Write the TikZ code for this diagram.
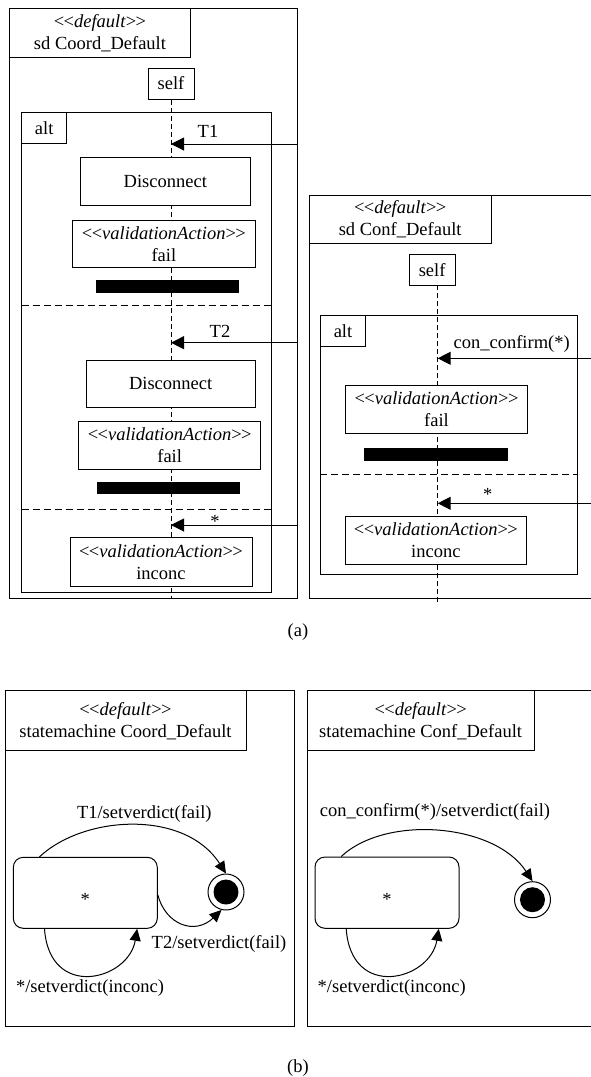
\documentclass[tikz,border=0pt]{standalone}
\usepackage{fontspec}
\setmainfont{Liberation Serif}
\usetikzlibrary{arrows.meta}
\newcommand{\stereo}[1]{\textless\kern-0.6pt\textless\kern0pt\textit{#1}\kern0pt\textgreater\kern-0.6pt\textgreater}
\begin{document}
\begin{tikzpicture}[x=1pt,y=-1pt,
  every node/.style={font=\fontsize{18.5}{22}\selectfont},
  ln/.style={line width=1pt},
  box/.style={draw, line width=1pt, fill=white, inner sep=0pt, align=center},
  lifeline/.style={line width=1pt, dash pattern=on 5pt off 3pt},
  sepline/.style={line width=1pt, dash pattern=on 7pt off 4pt},
  msg/.style={line width=1pt, -{Triangle[length=13pt,width=13pt]}},
  trans/.style={line width=1pt, -{Triangle[length=12pt,width=11pt]}},
  blackbar/.style={fill=black, inner sep=0pt},
  lbl/.style={inner sep=0pt, anchor=base},
  statebox/.style={draw, line width=1pt, rounded corners=10pt, inner sep=0pt},
  finalst/.style={draw, circle, line width=1pt, inner sep=0pt, minimum size=36pt},
]
\useasboundingbox (0,0) rectangle (591,1077);
\clip (0,0) rectangle (591,1077);

% ---------------- (a) left: sd Coord_Default ----------------
\draw[ln] (9.3,8.3) rectangle (297,598.3);
\node[box, minimum width=181.4pt, minimum height=49pt] (tA) at (100,32.8) {\stereo{default}\\sd Coord\_Default};
\node[box, minimum width=46pt, minimum height=31pt] (selfA) at (171,83.5) {self};
\coordinate (lifeA) at (171,598.3);
\draw[lifeline] (selfA.south) -- (lifeA);
\draw[ln] (21.7,112.7) rectangle (271,592.7);
\node[box, minimum width=45pt, minimum height=30.6pt] (altA) at (44.2,128) {alt};

\coordinate (t1s) at (297,144); \coordinate (t1e) at (171,144);
\draw[msg] (t1s) -- (t1e);
\node[lbl] (lt1) at (208,137.7) {T1};
\node[box, minimum width=169.3pt, minimum height=48pt] (dA1) at (165.35,181.7) {Disconnect};
\node[box, minimum width=182.3pt, minimum height=47.7pt] (vA1) at (163.85,243.85) {\stereo{validationAction}\\fail};
\node[blackbar, minimum width=143.6pt, minimum height=12.7pt] (bA1) at (167.5,286.35) {};
\draw[sepline] (21.7,305) -- (271,305);

\coordinate (t2s) at (297,342.7); \coordinate (t2e) at (171,342.7);
\draw[msg] (t2s) -- (t2e);
\node[lbl] (lt2) at (220,337.3) {T2};
\node[box, minimum width=169.3pt, minimum height=47.7pt] (dA2) at (170.65,383.85) {Disconnect};
\node[box, minimum width=182pt, minimum height=47.6pt] (vA2) at (169.7,445.5) {\stereo{validationAction}\\fail};
\node[blackbar, minimum width=143.6pt, minimum height=12.3pt] (bA2) at (168.5,487.85) {};
\draw[sepline] (21.7,509.3) -- (271,509.3);

\coordinate (t3s) at (297,525); \coordinate (t3e) at (171,525);
\draw[msg] (t3s) -- (t3e);
\node[lbl] (lt3) at (215,527.6) {*};
\node[box, minimum width=182pt, minimum height=48.3pt] (vA3) at (161,561.85) {\stereo{validationAction}\\inconc};

% ---------------- (a) right: sd Conf_Default ----------------
\draw[ln] (309.3,195) rectangle (620,598.3);
\node[box, minimum width=181.7pt, minimum height=48.3pt] (tB) at (400.15,219.15) {\stereo{default}\\sd Conf\_Default};
\node[box, minimum width=45.7pt, minimum height=30.7pt] (selfB) at (432.15,269.65) {self};
\coordinate (lifeBs) at (437.7,285);
\coordinate (lifeB) at (437.7,603);
\draw[lifeline] (lifeBs) -- (lifeB);
\draw[ln] (320.3,315.7) rectangle (577.7,574.3);
\node[box, minimum width=45.4pt, minimum height=30.6pt] (altB) at (343,331) {alt};

\coordinate (c1s) at (600,358.3); \coordinate (c1e) at (437.7,358.3);
\draw[msg] (c1s) -- (c1e);
\node[lbl] (lc1) at (511.7,348.3) {con\_confirm(*)};
\node[box, minimum width=181.6pt, minimum height=47.6pt] (vB1) at (436.5,409.5) {\stereo{validationAction}\\fail};
\node[blackbar, minimum width=144.3pt, minimum height=12.7pt] (bB1) at (436.15,454.65) {};
\draw[sepline] (320.3,474.3) -- (577.7,474.3);

\coordinate (c2s) at (600,503.3); \coordinate (c2e) at (437.7,503.3);
\draw[msg] (c2s) -- (c2e);
\node[lbl] (lc2) at (487.7,500) {*};
\node[box, minimum width=181.7pt, minimum height=48.3pt] (vB2) at (435.85,540.15) {\stereo{validationAction}\\inconc};

\node[lbl] (capA) at (298,636.5) {(a)};

% ---------------- (b) left: statemachine Coord_Default ----------------
\draw[ln] (5,690.7) rectangle (294,1026);
\node[box, minimum width=241pt, minimum height=60pt] (tC) at (125.5,720.7) {\stereo{default}\\statemachine Coord\_Default};
\node[statebox, minimum width=144pt, minimum height=71pt] (s1) at (85.3,892.8) {};
\node[lbl] (s1t) at (85.3,905) {*};
\node[finalst] (f1) at (226,892) {};
\fill (f1.center) circle[radius=12.5pt];
\draw[trans] ([xshift=26.7pt]s1.north west) .. controls +(45,-42) and +(-41,-64) .. (f1.north);
\draw[trans] ([yshift=-2pt]s1.east) .. controls +(7.7,30) and +(-26.6,25.5) .. (f1.256);
\draw[trans] ([xshift=31.7pt]s1.south west) .. controls +(5,71.7) and +(-8.7,51.7) .. ([xshift=-20.6pt]s1.south east);
\node[lbl] (l1) at (144.3,818) {T1/setverdict(fail)};
\node[lbl] (l2) at (219,948) {T2/setverdict(fail)};
\node[lbl] (l3) at (90,992.6) {*/setverdict(inconc)};

% ---------------- (b) right: statemachine Conf_Default ----------------
\draw[ln] (307,690.7) rectangle (620,1026);
\node[box, minimum width=227.3pt, minimum height=60pt] (tD) at (420.65,720.7) {\stereo{default}\\statemachine Conf\_Default};
\node[statebox, minimum width=144pt, minimum height=71.3pt] (s2) at (387,892.65) {};
\node[lbl] (s2t) at (387,905) {*};
\node[finalst] (f2) at (532.5,899.7) {};
\fill (f2.center) circle[radius=12.5pt];
\draw[trans] ([xshift=26.7pt]s2.north west) .. controls +(45,-42) and +(-38,-58) .. (f2.north);
\draw[trans] ([xshift=31.7pt]s2.south west) .. controls +(5,71.7) and +(-8.7,51.7) .. ([xshift=-20.7pt]s2.south east);
\node[lbl] (l4) at (435,816.3) {con\_confirm(*)/setverdict(fail)};
\node[lbl] (l5) at (391.7,992.6) {*/setverdict(inconc)};

\node[lbl] (capB) at (298,1072) {(b)};
\end{tikzpicture}
\end{document}
